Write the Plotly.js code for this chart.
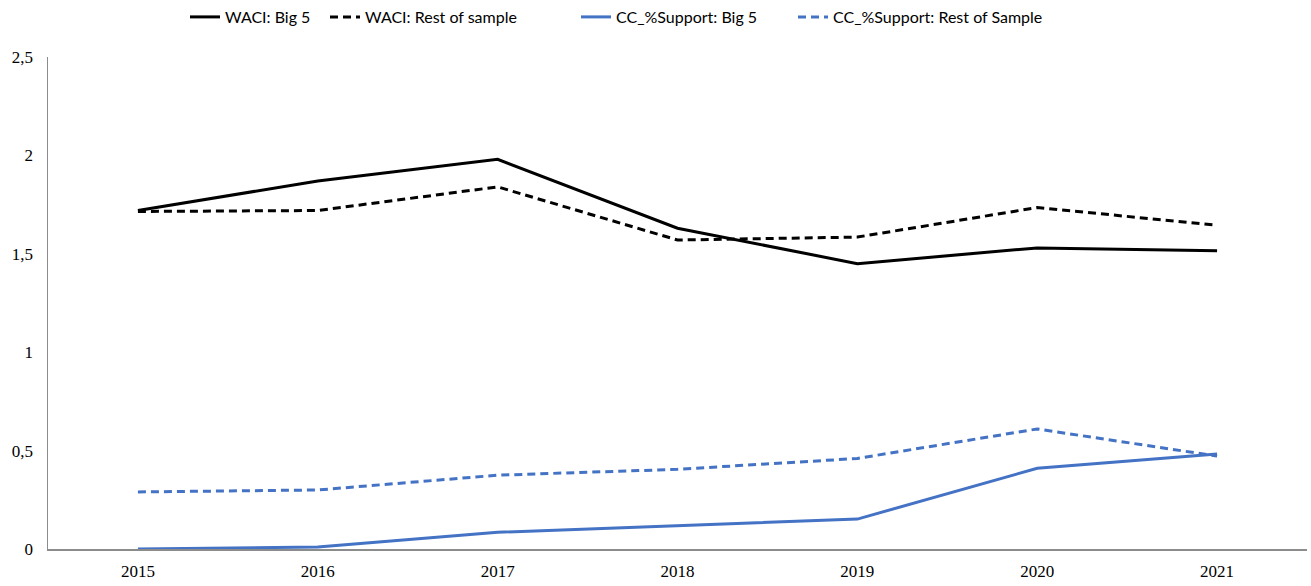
<!DOCTYPE html>
<html>
<head>
<meta charset="utf-8">
<script src="https://cdn.plot.ly/plotly-3.0.1.min.js"></script>
<style>html,body{margin:0;padding:0;background:#fff;} #chart{width:1311px;height:586px;}</style>
</head>
<body>
<div id="chart"></div>
<script>
const years = ['2015','2016','2017','2018','2019','2020','2021'];
const waciBig5 = [1.72, 1.87, 1.98, 1.63, 1.45, 1.53, 1.515];
const waciRest = [1.715, 1.72, 1.84, 1.57, 1.585, 1.735, 1.645];
const ccBig5 = [0.0, 0.01, 0.085, 0.12, 0.152, 0.41, 0.483];
const ccRest = [0.29, 0.30, 0.375, 0.405, 0.46, 0.61, 0.472];
const yTicks = [0, 0.5, 1, 1.5, 2, 2.5];
const yTickText = ['0', '0,5', '1', '1,5', '2', '2,5'];

const blue = '#4472C4';
const serif = 'Liberation Serif, DejaVu Serif, serif';
const traces = [
  {x: years, y: waciBig5, name: 'WACI: Big 5', mode: 'lines', line: {color: '#000', width: 3}, legend: 'legend'},
  {x: years, y: waciRest, name: 'WACI: Rest of sample', mode: 'lines', line: {color: '#000', width: 3, dash: '8px,5px'}, legend: 'legend2'},
  {x: years, y: ccBig5, name: 'CC_%Support: Big 5', mode: 'lines', line: {color: blue, width: 3}, legend: 'legend3'},
  {x: years, y: ccRest, name: 'CC_%Support: Rest of Sample', mode: 'lines', line: {color: blue, width: 3, dash: '8px,5px'}, legend: 'legend4'}
];
function leg(px) {
  return {orientation: 'h', x: px / 1311, xanchor: 'left', xref: 'container', y: 1 - 17/586, yref: 'container', yanchor: 'middle',
          font: {family: 'Lato, Open Sans, sans-serif', size: 16, color: '#000'}, bgcolor: 'rgba(0,0,0,0)'};
}
const layout = {
  width: 1311, height: 586,
  margin: {l: 48, r: 4, t: 57, b: 37},
  paper_bgcolor: '#fff', plot_bgcolor: '#fff',
  showlegend: true,
  legend: leg(185), legend2: leg(325), legend3: leg(576), legend4: leg(793),
  xaxis: {type: 'category', range: [-0.5, 6.5], showline: true, linecolor: '#8c8c8c', linewidth: 1.5,
          showgrid: false, zeroline: false, ticks: 'outside', ticklen: 6, tickcolor: 'rgba(0,0,0,0)', fixedrange: true,
          tickfont: {family: serif, size: 17, color: '#000'}},
  yaxis: {range: [0, 2.5], tickvals: yTicks, ticktext: yTickText, showline: true, linecolor: '#8c8c8c', linewidth: 1.5,
          showgrid: false, zeroline: false, ticks: 'outside', ticklen: 10, tickcolor: 'rgba(0,0,0,0)',
          tickfont: {family: serif, size: 17, color: '#000'}}
};
Plotly.newPlot('chart', traces, layout, {displayModeBar: false, staticPlot: true});
</script>
</body>
</html>
